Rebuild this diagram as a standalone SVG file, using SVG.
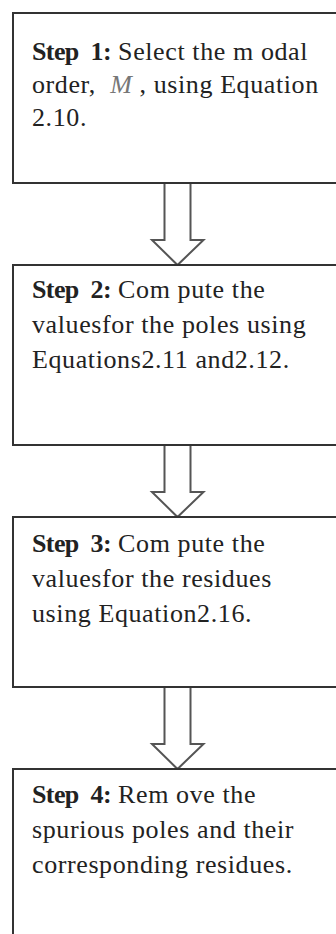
<svg xmlns="http://www.w3.org/2000/svg" width="336" height="934" viewBox="0 0 336 934">
<style>
.box{fill:#fff;stroke:#333;stroke-width:2}
.arr{fill:#fff;stroke:#555;stroke-width:2;stroke-linejoin:miter}
.t{font-family:'Liberation Serif','DejaVu Serif',serif;font-size:26px;letter-spacing:0.6px;fill:#222}
.b{font-weight:bold;letter-spacing:-0.6px}
.m{font-style:italic;fill:#777}
</style>
<rect width="336" height="934" fill="#fff"/>
<g id="connectors">
<path class="arr" d="M164.5,184 V240 H152 L177.5,265 L203.5,240 H190.5 V184"/>
<path class="arr" d="M164.5,446 V492 H152 L177.5,517 L203.5,492 H190.5 V446"/>
<path class="arr" d="M164.5,688 V744 H152 L177.5,769 L203.5,744 H190.5 V688"/>
</g>
<g id="step1">
<rect class="box" x="13" y="13" width="340" height="170"/>
<text class="t" x="32" y="60"><tspan class="b">Step&#160; 1:</tspan> Select the m odal</text>
<text class="t" x="32" y="93">order,&#160; <tspan class="m">M</tspan> , using Equation</text>
<text class="t" x="32" y="126">2.10.</text>
</g>
<g id="step2">
<rect class="box" x="13" y="265" width="340" height="180"/>
<text class="t" x="32" y="298"><tspan class="b">Step&#160; 2:</tspan> Com pute the</text>
<text class="t" x="32" y="333">valuesfor the poles using</text>
<text class="t" x="32" y="368">Equations2.11 and2.12.</text>
</g>
<g id="step3">
<rect class="box" x="13" y="517" width="340" height="170"/>
<text class="t" x="32" y="552"><tspan class="b">Step&#160; 3:</tspan> Com pute the</text>
<text class="t" x="32" y="587">valuesfor the residues</text>
<text class="t" x="32" y="622">using Equation2.16.</text>
</g>
<g id="step4">
<rect class="box" x="13" y="769" width="340" height="200"/>
<text class="t" x="32" y="803"><tspan class="b">Step&#160; 4:</tspan> Rem ove the</text>
<text class="t" x="32" y="838">spurious poles and their</text>
<text class="t" x="32" y="873">corresponding residues.</text>
</g>
</svg>
